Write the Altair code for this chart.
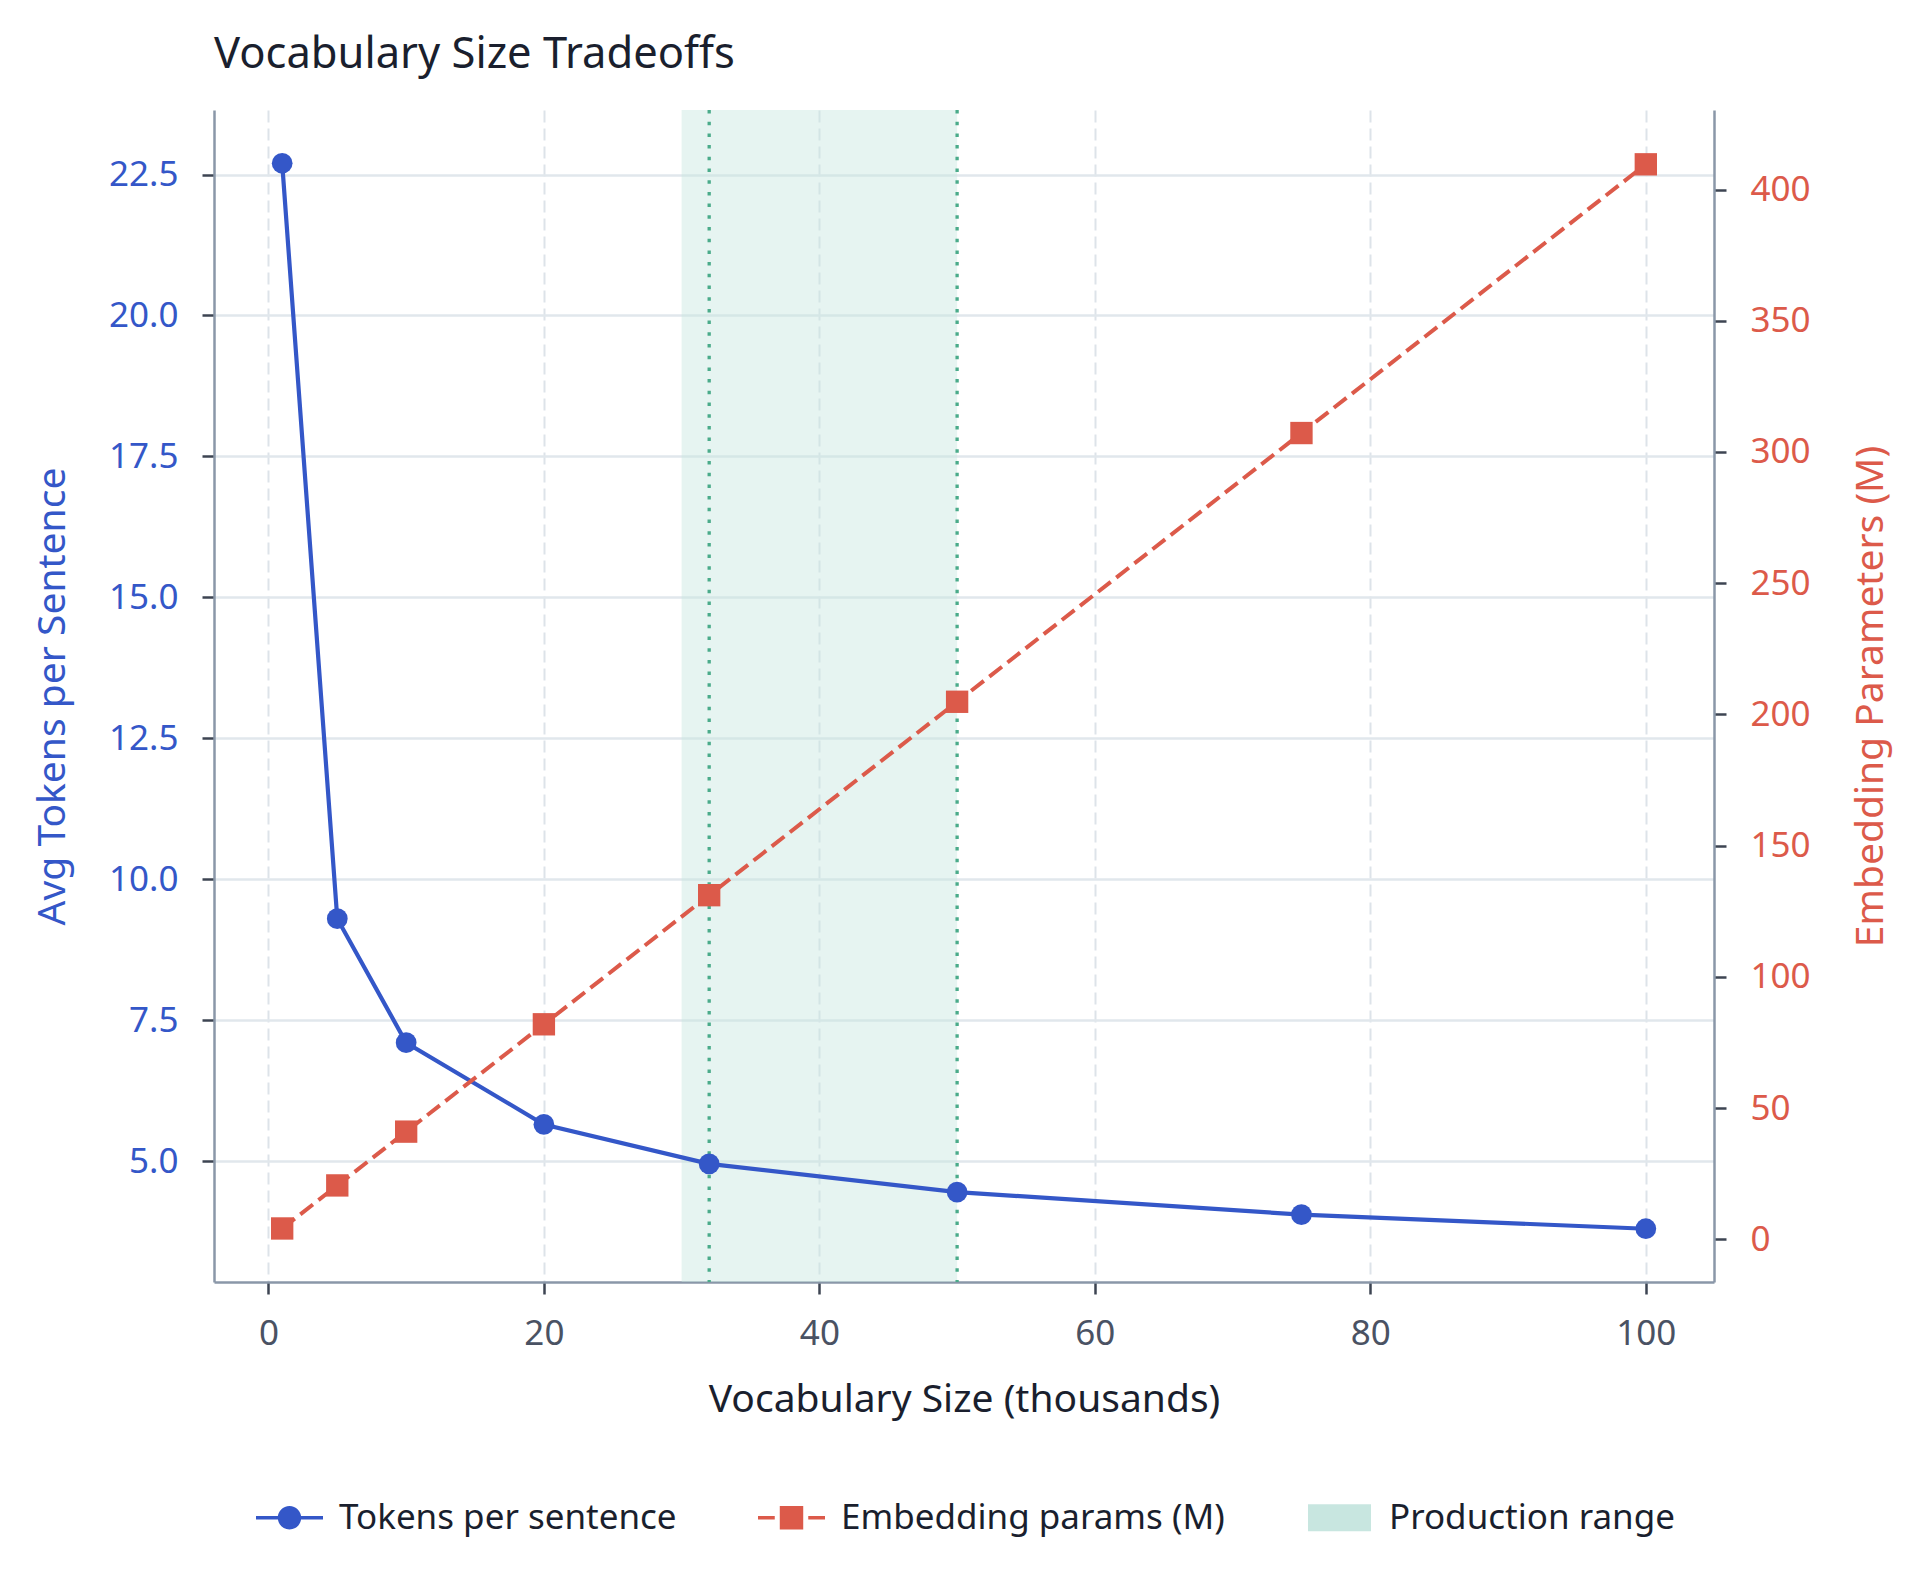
import pandas as pd
import altair as alt

# -----------------------------
# Data
# -----------------------------
VOCAB_K = [1, 5, 10, 20, 32, 50, 75, 100]
TOKENS = [22.7, 9.3, 7.1, 5.65, 4.95, 4.45, 4.05, 3.8]
EMBED_M = [4.1, 20.5, 41.0, 81.9, 131.1, 204.8, 307.2, 409.6]
PROD_RANGE = [30, 50]
MARKER_LINES = [32, 50]
SERIES = ["Tokens per sentence", "Embedding params (M)", "Production range"]

X_TICKS = [0, 20, 40, 60, 80, 100]
LEFT_TICKS = [5.0, 7.5, 10.0, 12.5, 15.0, 17.5, 20.0, 22.5]
RIGHT_TICKS = [0, 50, 100, 150, 200, 250, 300, 350, 400]

# -----------------------------
# Style
# -----------------------------
FONT = "Noto Sans"
BLUE = "#3457c8"
RED = "#dc5a4a"
GREEN = "#4aab8a"
BAND = "#c8e6e0"
DARK = "#1a1f2e"
GRAY = "#4a5263"
DOMAIN = "#8a97a8"

W, H = 1500, 1172

df = pd.DataFrame({"vocab": VOCAB_K, "tokens": TOKENS, "embed": EMBED_M})
band_df = pd.DataFrame({"start": [PROD_RANGE[0]], "end": [PROD_RANGE[1]]})
rule_df = pd.DataFrame({"x": MARKER_LINES})
legend_df = pd.DataFrame({"series": SERIES})

x_scale = alt.Scale(domain=[-3.95, 104.95], nice=False, zero=False)
x_axis = alt.Axis(
    values=X_TICKS, title="Vocabulary Size (thousands)", labelColor=GRAY,
    titleColor=DARK, grid=True, gridDash=[12, 6], gridColor="#dde3e9",
    gridWidth=2, labelPadding=22, titlePadding=29,
)


def x_enc(field):
    return alt.X(field, scale=x_scale, axis=x_axis)


# legend symbols: custom paths (line+circle, dashed line+square, patch)
P_BLUE = ("M-1,-0.055H1V0.055H-1Z "
          "M-0.35,0A0.35,0.35,0,1,1,0.35,0A0.35,0.35,0,1,1,-0.35,0Z")
P_RED = ("M-1,-0.055H-0.5V0.055H-1Z M-0.35,-0.35H0.35V0.35H-0.35Z "
         "M0.5,-0.055H1V0.055H0.5Z")
P_PATCH = "M-0.94,-0.4H0.94V0.4H-0.94Z"

band = (
    alt.Chart(band_df)
    .mark_rect(color=BAND, opacity=0.45)
    .encode(x=x_enc("start:Q"), x2="end:Q")
)

rules = (
    alt.Chart(rule_df)
    .mark_rule(color=GREEN, strokeDash=[3.5, 8.2], strokeWidth=3.3)
    .encode(x=x_enc("x:Q"))
)

y_left = alt.Y(
    "tokens:Q",
    scale=alt.Scale(domain=[2.855, 23.645], nice=False, zero=False),
    axis=alt.Axis(
        orient="left", values=LEFT_TICKS, format=".1f",
        title="Avg Tokens per Sentence", labelColor=BLUE, titleColor=BLUE,
        grid=True, gridColor="#e1e7ec", gridWidth=2.5,
        labelPadding=24, titlePadding=36,
    ),
)
left = alt.layer(
    alt.Chart(df).mark_line(color=BLUE, strokeWidth=4.2).encode(x=x_enc("vocab:Q"), y=y_left),
    alt.Chart(df).mark_point(color=BLUE, filled=True, shape="circle", size=430, opacity=1)
    .encode(x=x_enc("vocab:Q"), y=y_left),
)

y_right = alt.Y(
    "embed:Q",
    scale=alt.Scale(domain=[-16.3, 430.3], nice=False, zero=False),
    axis=alt.Axis(
        orient="right", values=RIGHT_TICKS, format="d",
        title="Embedding Parameters (M)", labelColor=RED, titleColor=RED,
        grid=False, labelPadding=24, titlePadding=41,
        titleAngle=270, titleBaseline="top",
    ),
)
right = alt.layer(
    alt.Chart(df).mark_line(color=RED, strokeWidth=4, strokeDash=[16, 7])
    .encode(x=x_enc("vocab:Q"), y=y_right),
    alt.Chart(df).mark_point(color=RED, filled=True, shape="square", size=500, opacity=1)
    .encode(x=x_enc("vocab:Q"), y=y_right),
)

leg = alt.Legend(
    orient="none", legendX=42, legendY=1374, direction="horizontal", title=None,
    symbolSize=4489, symbolStrokeWidth=0, symbolOpacity=1,
    labelFont=FONT, labelFontSize=35, labelColor=DARK, labelOffset=16,
    labelLimit=800, columnPadding=81, padding=0,
)
legend_layer = (
    alt.Chart(legend_df)
    .mark_point(filled=True, size=0, opacity=1)
    .encode(
        color=alt.Color("series:N", scale=alt.Scale(domain=SERIES, range=[BLUE, RED, BAND]), legend=leg),
        shape=alt.Shape("series:N", scale=alt.Scale(domain=SERIES, range=[P_BLUE, P_RED, P_PATCH]), legend=leg),
    )
)

chart = (
    alt.layer(band, rules, left, right, legend_layer)
    .resolve_scale(y="independent")
    .properties(
        width=W, height=H,
        autosize=alt.AutoSizeParams(type="none"),
        padding={"left": 206, "top": 102, "right": 198, "bottom": 290},
        title=alt.TitleParams(
            "Vocabulary Size Tradeoffs", anchor="start", frame="group",
            font=FONT, fontSize=43.5, fontWeight="normal", color=DARK, offset=31,
        ),
    )
    .configure_view(strokeWidth=0)
    .configure_axis(
        labelFont=FONT, labelFontSize=35, titleFont=FONT, titleFontSize=39,
        titleFontWeight="normal", tickSize=12, tickWidth=2.5, tickColor="#3d4452",
        domainColor=DOMAIN, domainWidth=2.5,
    )
)

chart.save("out.html", embed_options={"renderer": "svg", "actions": False})
